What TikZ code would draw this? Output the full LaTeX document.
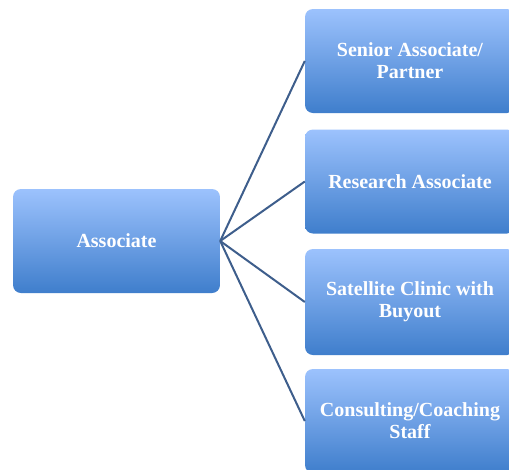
\documentclass[tikz,border=0pt]{standalone}
\usepackage{fontspec}
\setmainfont{Liberation Serif}
\begin{document}
\begin{tikzpicture}[x=1pt,y=-1pt,
  box/.style={rounded corners=8pt, top color=boxtop, bottom color=boxbot, draw=none,
    minimum width=#1, align=center, text=white, font=\fontsize{20}{22}\selectfont\bfseries, inner sep=0pt},
  link/.style={draw=linkc, line width=2pt}]
\definecolor{boxtop}{HTML}{9CC2FD}
\definecolor{boxbot}{HTML}{3F7ECC}
\definecolor{linkc}{HTML}{3E5E8C}
\useasboundingbox (0,0) rectangle (509,469);
\fill[white] (0,0) rectangle (509,469);
\node[box=207pt, minimum height=104pt] (a) at (116.5,241) {Associate};
\node[box=210pt, minimum height=104pt] (b1) at (410,61) {Senior Associate/\\Partner};
\node[box=210pt, minimum height=104pt] (b2) at (410,181.5) {Research Associate};
\node[box=210pt, minimum height=106pt] (b3) at (410,302) {Satellite Clinic with\\Buyout};
\node[box=210pt, minimum height=104pt] (b4) at (410,421) {Consulting/Coaching\\Staff};
\foreach \b in {b1,b2,b3,b4} \draw[link] (a.east) -- (\b.west);
\end{tikzpicture}
\end{document}
